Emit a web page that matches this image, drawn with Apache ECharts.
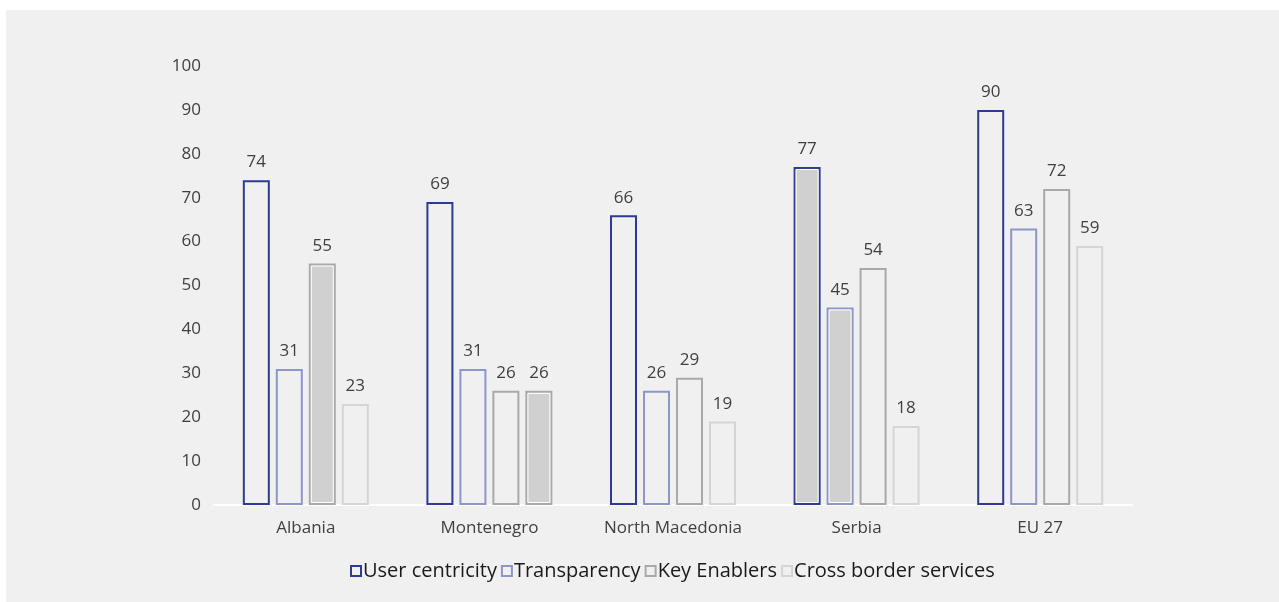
<!DOCTYPE html>
<html>
<head>
<meta charset="utf-8">
<script src="https://cdn.jsdelivr.net/npm/echarts@6/dist/echarts.min.js"></script>
<style>
  html, body { margin: 0; padding: 0; background: #ffffff; }
  #chart { position: absolute; left: 6px; top: 10px; width: 1273px; height: 592px; background: #f0f0f0; }
</style>
</head>
<body>
<div id="chart"></div>
<script>
// Digital public services scores by country
const categories = ['Albania', 'Montenegro', 'North Macedonia', 'Serbia', 'EU 27'];
const seriesNames = ['User centricity', 'Transparency', 'Key Enablers', 'Cross border services'];
const userCentricity = [74, 69, 66, 77, 90];
const transparency = [31, 31, 26, 45, 63];
const keyEnablers = [55, 26, 29, 54, 72];
const crossBorder = [23, 26, 19, 18, 59];
const yTicks = [0, 10, 20, 30, 40, 50, 60, 70, 80, 90, 100];

// Bars drawn with a solid grey fill: [series index, category index]
const shadedBars = [[2, 0], [3, 1], [0, 3], [1, 3]];

const seriesValues = [userCentricity, transparency, keyEnablers, crossBorder];
const borderColors = ['#2e3a94', '#8d96c8', '#a9a9a9', '#d5d5d5'];
const panelColor = '#f0f0f0';
const shadeColor = '#d0d0d0';
const BAR_W = 27;
const BAR_GAP = 6;

function isShaded(s, c) {
  return shadedBars.some(p => p[0] === s && p[1] === c);
}

const barSeries = seriesValues.map((vals, s) => ({
  name: seriesNames[s],
  type: 'bar',
  barWidth: BAR_W,
  barGap: (BAR_GAP / BAR_W * 100).toFixed(1) + '%',
  itemStyle: { color: panelColor, borderColor: borderColors[s], borderWidth: 2 },
  label: {
    show: true, position: 'top', distance: 9,
    color: '#404040', fontSize: 17, fontFamily: 'Open Sans'
  },
  data: vals.map((v, c) => isShaded(s, c)
    ? { value: v, itemStyle: { color: shadeColor, borderColor: (s === 3 ? '#a9a9a9' : borderColors[s]) } }
    : v),
  z: 2
}));

// Thin white inner line on the shaded bars
const insetSeries = {
  type: 'custom',
  silent: true,
  z: 3,
  data: shadedBars.map(p => [p[1], seriesValues[p[0]][p[1]], p[0]]),
  renderItem: function (params, api) {
    const c = api.value(0), v = api.value(1), s = api.value(2);
    const top = api.coord([c, v]);
    const base = api.coord([c, 0]);
    const groupW = seriesValues.length * BAR_W + (seriesValues.length - 1) * BAR_GAP;
    const x0 = top[0] - groupW / 2 + s * (BAR_W + BAR_GAP);
    return {
      type: 'rect',
      shape: { x: x0 + 2.5, y: top[1] + 2.5, width: BAR_W - 5, height: base[1] - top[1] - 5 },
      style: { fill: 'none', stroke: '#ffffff', lineWidth: 1 }
    };
  }
};

const chart = echarts.init(document.getElementById('chart'), null, { renderer: 'canvas' });
chart.setOption({
  backgroundColor: panelColor,
  animation: false,
  textStyle: { fontFamily: 'Open Sans' },
  grid: { left: 208, right: 147, top: 56, bottom: 97 },
  legend: {
    data: seriesNames,
    top: 546,
    left: 339,
    icon: 'rect',
    itemWidth: 10,
    itemHeight: 10,
    itemGap: 4,
    textStyle: { color: '#1a1a1a', fontSize: 20, fontFamily: 'Open Sans', padding: [0, 0, 0, -3] }
  },
  xAxis: {
    type: 'category',
    data: categories,
    axisLine: { lineStyle: { color: '#ffffff', width: 2 } },
    axisTick: { show: false },
    axisLabel: { color: '#404040', fontSize: 17, margin: 15 }
  },
  yAxis: {
    type: 'value',
    min: yTicks[0],
    max: yTicks[yTicks.length - 1],
    interval: 10,
    splitLine: { show: false },
    axisLine: { show: false },
    axisTick: { show: false },
    axisLabel: { color: '#404040', fontSize: 17, margin: 13 }
  },
  series: barSeries.concat([insetSeries])
});
</script>
</body>
</html>
